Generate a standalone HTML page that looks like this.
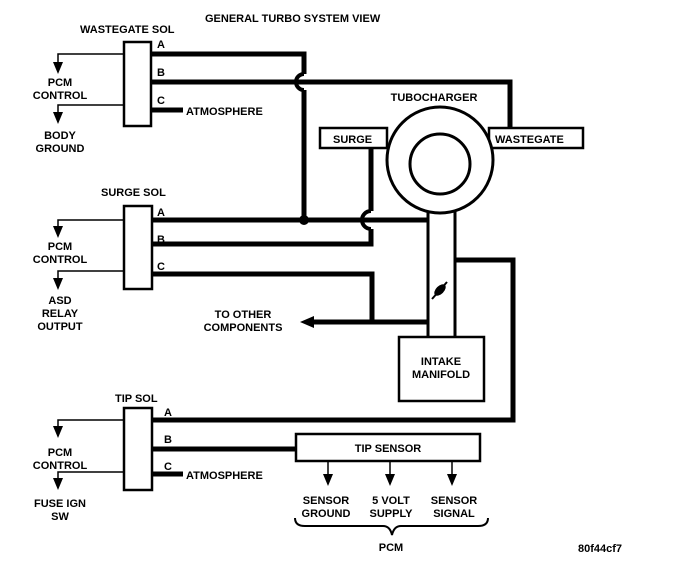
<!DOCTYPE html>
<html><head><meta charset="utf-8"><style>
html,body{margin:0;padding:0;background:#fff;}
svg{display:block;}
text{font-family:"Liberation Sans",Arial,sans-serif;font-weight:bold;fill:#000;font-size:11px;}
</style></head><body>
<svg width="688" height="566" viewBox="0 0 688 566" xmlns="http://www.w3.org/2000/svg">
<g fill="none" stroke="#000">
<!-- wastegate sol -->
<rect x="124" y="42" width="27" height="84" stroke-width="2.5"/>
<path d="M151 54 H304 V74 M304 90 V220" stroke-width="5"/>
<path d="M151 82 H510 V128" stroke-width="5"/>
<path d="M304 74 A8 8 0 0 0 304 90" stroke-width="4"/>
<path d="M151 110 H183" stroke-width="5"/>
<path d="M124 54 H58 V64 M124 105 H58 V114" stroke-width="1.5"/>
<!-- surge sol -->
<rect x="124" y="206" width="28" height="83" stroke-width="2.5"/>
<path d="M152 220 H428" stroke-width="5"/>
<path d="M371 148 V211 M371 229 V244 H152" stroke-width="5"/>
<path d="M371 211 A9 9 0 0 0 371 229" stroke-width="4"/>
<path d="M152 274 H372 V322" stroke-width="5"/>
<path d="M428 322 H310" stroke-width="5"/>
<path d="M124 220 H58 V228 M124 271 H58 V280" stroke-width="1.5"/>
<!-- turbo -->
<rect x="320" y="128" width="67" height="20" stroke-width="2.5"/>
<rect x="489" y="128" width="94" height="20" stroke-width="2.5"/>
<circle cx="440" cy="160" r="53" stroke-width="3" fill="#fff"/>
<circle cx="440" cy="164" r="30" stroke-width="3"/>
<path d="M428 211 V337 M455 211 V337" stroke-width="3"/>
<path d="M455 260 H513 V420 H152" stroke-width="5"/>
<rect x="399" y="337" width="85" height="64" stroke-width="2.5"/>
<path d="M432 299 L447 282" stroke-width="2"/>
<!-- tip sol -->
<rect x="124" y="408" width="28" height="82" stroke-width="2.5"/>
<path d="M152 449 H296" stroke-width="5"/>
<path d="M152 474 H183" stroke-width="5"/>
<path d="M124 420 H58 V428 M124 472 H58 V480" stroke-width="1.5"/>
<rect x="296" y="434" width="184" height="27" stroke-width="2.5"/>
<path d="M328 461 V476 M390 461 V476 M452 461 V476" stroke-width="1.5"/>
<path d="M295 518 Q295 526 305 526 H383 Q390 526 392 535 Q394 526 401 526 H478 Q488 526 488 518" stroke-width="2"/>
</g>
<g fill="#000" stroke="none">
<circle cx="304" cy="220" r="5"/>
<ellipse cx="440" cy="290" rx="7" ry="4" transform="rotate(-45 440 290)"/>
<path d="M300 322 L314 316 L314 328 Z"/>
<path d="M53 62 H63 L58 74 Z M53 112 H63 L58 124 Z"/>
<path d="M53 226 H63 L58 238 Z M53 278 H63 L58 290 Z"/>
<path d="M53 426 H63 L58 438 Z M53 478 H63 L58 490 Z"/>
<path d="M323 474 H333 L328 486 Z M385 474 H395 L390 486 Z M447 474 H457 L452 486 Z"/>
</g>
<text x="205" y="22" font-size="13">GENERAL TURBO SYSTEM VIEW</text>
<text x="80" y="33">WASTEGATE SOL</text>
<text x="157" y="48">A</text><text x="157" y="76">B</text><text x="157" y="104">C</text>
<text x="186" y="115">ATMOSPHERE</text>
<text x="60" y="86" text-anchor="middle">PCM</text>
<text x="60" y="99" text-anchor="middle">CONTROL</text>
<text x="60" y="139" text-anchor="middle">BODY</text>
<text x="60" y="152" text-anchor="middle">GROUND</text>
<text x="101" y="196">SURGE SOL</text>
<text x="157" y="216">A</text><text x="157" y="243">B</text><text x="157" y="270">C</text>
<text x="60" y="250" text-anchor="middle">PCM</text>
<text x="60" y="263" text-anchor="middle">CONTROL</text>
<text x="60" y="304" text-anchor="middle">ASD</text>
<text x="60" y="317" text-anchor="middle">RELAY</text>
<text x="60" y="330" text-anchor="middle">OUTPUT</text>
<text x="243" y="318" text-anchor="middle">TO OTHER</text>
<text x="243" y="331" text-anchor="middle">COMPONENTS</text>
<text x="434" y="101" text-anchor="middle">TUBOCHARGER</text>
<text x="333" y="143">SURGE</text>
<text x="495" y="143">WASTEGATE</text>
<text x="441" y="365" text-anchor="middle">INTAKE</text>
<text x="441" y="378" text-anchor="middle">MANIFOLD</text>
<text x="115" y="402">TIP SOL</text>
<text x="164" y="416">A</text><text x="164" y="443">B</text><text x="164" y="470">C</text>
<text x="186" y="479">ATMOSPHERE</text>
<text x="60" y="456" text-anchor="middle">PCM</text>
<text x="60" y="469" text-anchor="middle">CONTROL</text>
<text x="60" y="507" text-anchor="middle">FUSE IGN</text>
<text x="60" y="520" text-anchor="middle">SW</text>
<text x="388" y="452" text-anchor="middle">TIP SENSOR</text>
<text x="326" y="504" text-anchor="middle">SENSOR</text>
<text x="326" y="517" text-anchor="middle">GROUND</text>
<text x="391" y="504" text-anchor="middle">5 VOLT</text>
<text x="391" y="517" text-anchor="middle">SUPPLY</text>
<text x="454" y="504" text-anchor="middle">SENSOR</text>
<text x="454" y="517" text-anchor="middle">SIGNAL</text>
<text x="391" y="551" text-anchor="middle">PCM</text>
<text x="578" y="552">80f44cf7</text>
</svg>
</body></html>
